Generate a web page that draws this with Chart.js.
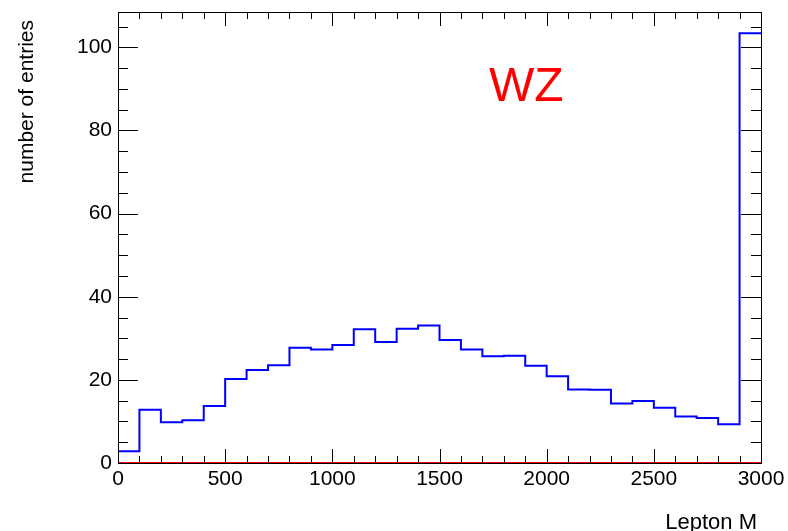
<!DOCTYPE html>
<html>
<head>
<meta charset="utf-8">
<script src="https://cdn.jsdelivr.net/npm/chart.js@4"></script>
<style>
html, body { margin: 0; padding: 0; background: #fff; }
</style>
</head>
<body>
<canvas id="myChart" width="788" height="531"></canvas>
<script>
// bin edges of the histogram (Lepton M)
const binEdges = [0, 100, 200, 300, 400, 500, 600, 700, 800, 900, 1000,
    1100, 1200, 1300, 1400, 1500, 1600, 1700, 1800, 1900, 2000,
    2100, 2200, 2300, 2400, 2500, 2600, 2700, 2800, 2900, 3000];
// entries per bin, WZ sample (blue)
const wzCounts = [2.8, 12.8, 9.8, 10.3, 13.7, 20.2, 22.4, 23.5, 27.7, 27.3,
    28.4, 32.2, 29.1, 32.3, 33.1, 29.6, 27.3, 25.7, 25.8, 23.4,
    20.9, 17.7, 17.6, 14.3, 14.9, 13.3, 11.2, 10.8, 9.3, 103.4];
// second (empty) histogram drawn in red
const otherCounts = [0, 0, 0, 0, 0, 0, 0, 0, 0, 0, 0, 0, 0, 0, 0,
    0, 0, 0, 0, 0, 0, 0, 0, 0, 0, 0, 0, 0, 0, 0];
const xMajorTicks = [0, 500, 1000, 1500, 2000, 2500, 3000];
const yMajorTicks = [0, 20, 40, 60, 80, 100];
const yMax = 108.5;

function histPoints(counts) {
    const pts = counts.map((c, i) => ({ x: binEdges[i], y: c }));
    pts.push({ x: binEdges[counts.length], y: counts[counts.length - 1] });
    return pts;
}

const FONT = '"Liberation Sans", Arial, Helvetica, sans-serif';

// frame, inward ticks on all four sides, and the free texts
const rootStyle = {
    id: 'rootStyle',
    afterDatasetsDraw(chart) {
        const c = chart.ctx;
        const a = chart.chartArea;
        const xs = chart.scales.x;
        const ys = chart.scales.y;
        c.save();
        c.strokeStyle = '#000';
        c.lineWidth = 1;
        c.beginPath();
        for (let v = 0; v <= 3000; v += 100) {
            const px = Math.round(xs.getPixelForValue(v)) + 0.5;
            const len = (v % 500 === 0) ? 14 : 7;
            c.moveTo(px, a.bottom); c.lineTo(px, a.bottom - len);
            c.moveTo(px, a.top); c.lineTo(px, a.top + len);
        }
        for (let v = 0; v <= yMax; v += 5) {
            const py = Math.round(ys.getPixelForValue(v)) + 0.5;
            const len = (v % 20 === 0) ? 20 : 10;
            c.moveTo(a.left, py); c.lineTo(a.left + len, py);
            c.moveTo(a.right, py); c.lineTo(a.right - len, py);
        }
        c.stroke();
        c.strokeRect(Math.round(a.left) + 0.5, Math.round(a.top) + 0.5,
            Math.round(a.right - a.left), Math.round(a.bottom - a.top));
        c.restore();
    },
    afterDraw(chart) {
        const c = chart.ctx;
        c.save();
        c.fillStyle = '#ff0000';
        c.font = '48px ' + FONT;
        c.textAlign = 'left';
        c.textBaseline = 'alphabetic';
        c.fillText('WZ', 489, 101);

        c.fillStyle = '#000';
        c.font = '22px ' + FONT;
        c.textAlign = 'right';
        c.fillText('Lepton M', 757, 529);

        c.font = '21px ' + FONT;
        c.translate(33, 20);
        c.rotate(-Math.PI / 2);
        c.textAlign = 'right';
        c.fillText('number of entries', 0, 0);
        c.restore();
    }
};

new Chart(document.getElementById('myChart'), {
    type: 'line',
    data: {
        datasets: [{
            label: 'WZ',
            data: histPoints(wzCounts),
            stepped: 'before',
            borderColor: '#0000ff',
            borderWidth: 2,
            pointRadius: 0,
            fill: false,
            clip: 3
        }, {
            label: 'other',
            data: histPoints(otherCounts),
            stepped: 'before',
            borderColor: '#ff0000',
            borderWidth: 2,
            pointRadius: 0,
            fill: false,
            clip: 3
        }]
    },
    options: {
        responsive: false,
        animation: false,
        layout: { padding: { left: 0, top: 12, right: 27, bottom: 0 } },
        plugins: {
            legend: { display: false },
            tooltip: { enabled: false }
        },
        scales: {
            x: {
                type: 'linear',
                min: 0,
                max: 3000,
                afterFit: (s) => { s.height = 68; s.paddingLeft = 0; s.paddingRight = 0; },
                afterBuildTicks: (s) => { s.ticks = xMajorTicks.map(v => ({ value: v })); },
                grid: { display: false, drawTicks: false },
                border: { display: false },
                ticks: {
                    autoSkip: false,
                    maxRotation: 0,
                    padding: 4,
                    color: '#000',
                    font: { size: 21, family: FONT },
                    callback: (v) => String(v)
                }
            },
            y: {
                type: 'linear',
                min: 0,
                max: yMax,
                afterFit: (s) => { s.width = 118; s.paddingTop = 0; s.paddingBottom = 0; },
                afterBuildTicks: (s) => { s.ticks = yMajorTicks.map(v => ({ value: v })); },
                grid: { display: false, drawTicks: false },
                border: { display: false },
                ticks: {
                    padding: 6,
                    color: '#000',
                    font: { size: 21, family: FONT },
                    callback: (v) => String(v)
                }
            }
        }
    },
    plugins: [rootStyle]
});
</script>
</body>
</html>
